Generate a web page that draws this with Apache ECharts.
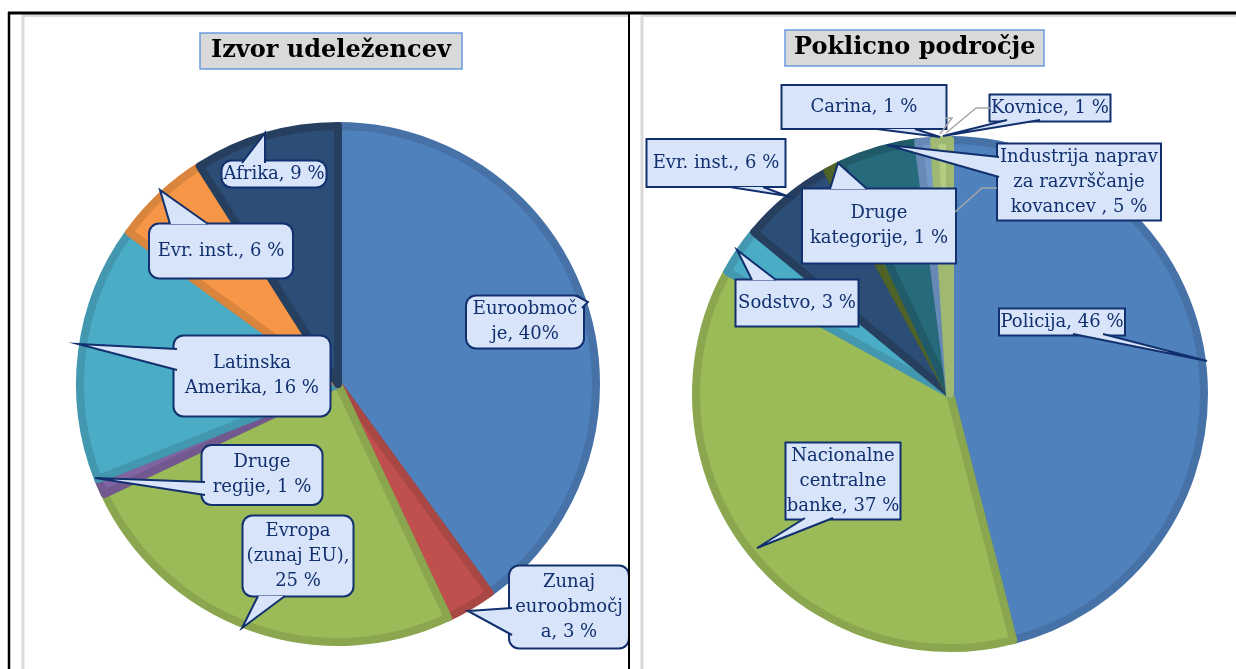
<!DOCTYPE html>
<html>
<head>
<meta charset="utf-8">
<script src="https://cdn.jsdelivr.net/npm/echarts@6/dist/echarts.min.js"></script>
<style>
html,body{margin:0;padding:0;background:#fff;}
#main{width:1236px;height:669px;}
</style>
</head>
<body>
<div id="main"></div>
<script>
// ---- data ----
const leftTitle = 'Izvor udeležencev';
const leftNames = ['Euroobmočje', 'Zunaj euroobmočja', 'Evropa (zunaj EU)', 'Druge regije', 'Latinska Amerika', 'Evr. inst.', 'Afrika'];
const leftValues = [40, 3, 25, 1, 16, 6, 9];
const leftLabels = ['Euroobmoč\nje, 40%', 'Zunaj\neuroobmočj\na, 3 %', 'Evropa\n(zunaj EU),\n25 %', 'Druge\nregije, 1 %', 'Latinska\nAmerika, 16 %', 'Evr. inst., 6 %', 'Afrika, 9 %'];

const rightTitle = 'Poklicno področje';
const rightNames = ['Policija', 'Nacionalne centralne banke', 'Sodstvo', 'Evr. inst.', 'Druge kategorije', 'Industrija naprav za razvrščanje kovancev', 'Carina', 'Kovnice'];
const rightValues = [46, 37, 3, 6, 1, 5, 1, 1];
const rightLabels = ['Policija, 46 %', 'Nacionalne\ncentralne\nbanke, 37 %', 'Sodstvo, 3 %', 'Evr. inst., 6 %', 'Druge\nkategorije, 1 %', 'Industrija naprav\nza razvrščanje\nkovancev , 5 %', 'Carina, 1 %', 'Kovnice, 1 %'];

// ---- styles / layout ----
const leftColors = ['#4F81BD', '#C0504D', '#9BBB59', '#8064A2', '#4BACC6', '#F79646', '#2C4D75'];
const leftRims   = ['#4672A8', '#A94744', '#8AA74F', '#71598F', '#4398AF', '#DA853E', '#263F5E'];
const rightColors = ['#4F81BD', '#9BBB59', '#4BACC6', '#2C4D75', '#5F7530', '#276A7C', '#7399C9', '#B3CC80'];
const rightRims   = ['#4672A8', '#8AA74F', '#4398AF', '#263F5E', '#4F6228', '#215B6A', '#6689B5', '#9FB872'];

// label boxes: [cx, cy, w, h]
const leftBoxes = [
  [525, 322, 116, 55], [569, 607, 118, 85], [298, 556, 109, 83], [262, 475, 119, 62],
  [252, 376, 155, 83], [221, 251, 142, 57], [274, 174, 103, 27]
];
const rightBoxes = [
  [1062, 322, 124, 25], [843, 481, 113, 76], [797, 303, 121, 49], [716, 163, 137, 50],
  [879, 226, 152, 77], [1079, 182, 162, 79], [864, 107, 163, 46], [1050, 108, 119, 26]
];
// callout wedges: [baseA, tip, baseB]
const calloutWedges = [
  [[577, 296], [588, 302], [582, 308]],
  [[512, 608], [468, 611], [512, 635]],
  [[258, 596], [242, 628], [285, 596]],
  [[205, 482], [95, 478], [205, 495]],
  [[177, 349], [78, 344], [177, 370]],
  [[170, 224], [160, 190], [208, 224]],
  [[242, 163], [265, 133], [265, 163]],
  [[1073, 334], [1207, 361], [1103, 334]],
  [[805, 518], [757, 548], [833, 518]],
  [[752, 280], [737, 250], [776, 280]],
  [[730, 187], [787, 196], [763, 187]],
  [[830, 189], [838, 163], [867, 189]],
  [[999, 157], [887, 145], [999, 177]],
  [[877, 129], [940, 137], [915, 129]],
  [[1007, 120], [943, 136], [1040, 120]]
];
// thin gray leader lines
const leaderLines = [
  [[990, 108], [976, 108], [946, 133]],
  [[997, 188], [982, 188], [955, 212]],
  [[945, 118], [952, 118], [940, 134]]
];

const FONT = 'DejaVu Serif';
const FS = 18;
const LH = 25;
const NAVY = '#12306E';
const LABEL_BG = '#D7E4F9';

function makeData(names, values, labels, colors, rims, boxes, radiusCorner) {
  return names.map((n, i) => {
    const lines = labels[i].split('\n').length;
    const b = boxes[i];
    const pv = Math.max(0, (b[3] - 4 - lines * LH) / 2);
    return {
      name: n,
      value: values[i],
      itemStyle: { color: colors[i], borderColor: rims[i] },
      label: {
        formatter: labels[i],
        width: b[2] - 6,
        overflow: 'none',
        padding: [pv, 3, pv, 3],
        borderRadius: radiusCorner
      }
    };
  });
}

function pieSeries(center, radius, data, boxes) {
  return {
    type: 'pie',
    center: center,
    radius: radius,
    startAngle: 90,
    clockwise: true,
    avoidLabelOverlap: false,
    animation: false,
    silent: true,
    itemStyle: { borderWidth: 8, borderJoin: 'round' },
    label: {
      show: true,
      position: 'outside',
      fontFamily: FONT,
      fontSize: FS,
      lineHeight: LH,
      color: NAVY,
      align: 'center',
      backgroundColor: LABEL_BG,
      borderColor: NAVY,
      borderWidth: 2
    },
    labelLine: { show: false },
    labelLayout: function (p) {
      const b = boxes[p.dataIndex];
      return { x: b[0], y: b[1], align: 'center', verticalAlign: 'middle' };
    },
    data: data
  };
}

const chart = echarts.init(document.getElementById('main'), null, { renderer: 'canvas' });

const graphics = [
  { type: 'line', shape: { x1: 23, y1: 15.5, x2: 628, y2: 15.5 }, style: { stroke: '#D9D9D9', lineWidth: 3 }, z: 1 },
  { type: 'line', shape: { x1: 23, y1: 15, x2: 23, y2: 669 }, style: { stroke: '#D9D9D9', lineWidth: 3 }, z: 1 },
  { type: 'line', shape: { x1: 642, y1: 15.5, x2: 1236, y2: 15.5 }, style: { stroke: '#D9D9D9', lineWidth: 3 }, z: 1 },
  { type: 'line', shape: { x1: 642, y1: 15, x2: 642, y2: 669 }, style: { stroke: '#D9D9D9', lineWidth: 3 }, z: 1 },
  { type: 'line', shape: { x1: 8, y1: 13, x2: 1236, y2: 13 }, style: { stroke: '#000', lineWidth: 3 }, z: 20 },
  { type: 'line', shape: { x1: 9, y1: 12, x2: 9, y2: 669 }, style: { stroke: '#000', lineWidth: 2.5 }, z: 20 },
  { type: 'line', shape: { x1: 629, y1: 12, x2: 629, y2: 669 }, style: { stroke: '#000', lineWidth: 2 }, z: 20 }
];
leaderLines.forEach(pts => {
  graphics.push({ type: 'polyline', shape: { points: pts }, style: { stroke: '#A6A6A6', lineWidth: 1.5, fill: null }, z: 4 });
});
calloutWedges.forEach(w => {
  graphics.push({ type: 'polygon', shape: { points: w }, style: { fill: LABEL_BG, stroke: null }, z: 5 });
  graphics.push({ type: 'polyline', shape: { points: w }, style: { stroke: NAVY, lineWidth: 2, fill: null, lineJoin: 'miter' }, z: 5 });
});

const titleStyle = {
  fontFamily: FONT,
  fontWeight: 'bold',
  fontSize: 24,
  lineHeight: 28,
  color: '#000'
};

chart.setOption({
  backgroundColor: '#fff',
  graphic: graphics,
  title: [
    {
      text: leftTitle, left: 200, top: 33,
      textStyle: titleStyle,
      backgroundColor: '#D9D9D9', borderColor: '#6C9BE0', borderWidth: 1.5,
      padding: [4, 11, 4, 11]
    },
    {
      text: rightTitle, left: 785, top: 30,
      textStyle: titleStyle,
      backgroundColor: '#D9D9D9', borderColor: '#6C9BE0', borderWidth: 1.5,
      padding: [4, 9, 4, 9]
    }
  ],
  series: [
    pieSeries([338, 384], 258, makeData(leftNames, leftValues, leftLabels, leftColors, leftRims, leftBoxes, 9), leftBoxes),
    pieSeries([950, 394], 254, makeData(rightNames, rightValues, rightLabels, rightColors, rightRims, rightBoxes, 0), rightBoxes)
  ]
});
</script>
</body>
</html>
